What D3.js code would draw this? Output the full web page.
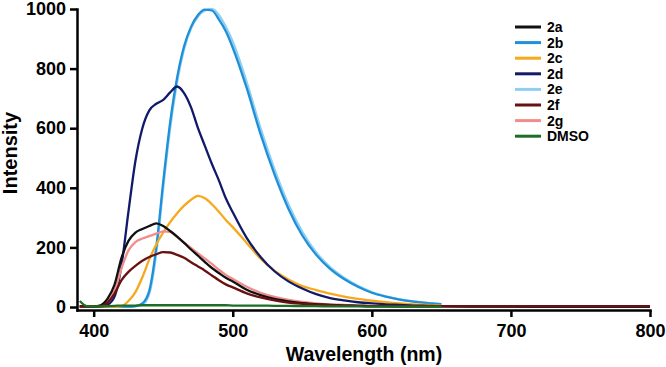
<!DOCTYPE html>
<html>
<head>
<meta charset="utf-8">
<script src="https://cdn.jsdelivr.net/npm/d3@7"></script>
<style>
  body { margin: 0; background: #fff; }
  svg text { font-family: 'Liberation Sans', Arial, sans-serif; font-weight: bold; fill: #000; }
  .axis path, .axis line { stroke: #000; stroke-width: 2.5; }
</style>
</head>
<body>
<svg width="666" height="367"></svg>
<script>
(function(d3) {
  'use strict';

  // Wavelength grid (nm) shared by all spectra.
  const wavelengths = [390, 395, 400, 405, 410, 415, 420, 425, 430, 435, 440,
    445, 450, 455, 460, 465, 470, 475, 480, 485, 490, 495, 500, 510, 520, 530,
    540, 550, 560, 570, 580, 590, 600, 610, 620, 630, 640, 650, 700, 750, 800];

  // Intensities. Shorter series stop at 650 nm.
  const i2a = [3, 2, 2, 6, 28, 75, 165, 222, 250, 262, 272, 281, 272, 255, 236,
    215, 193, 172, 151, 131, 114, 98, 86, 58, 40, 27, 19, 13, 10, 7, 5, 4, 3, 3,
    2, 2, 2, 2, 1, 1, 1];
  const i2b = [1, 1, 1, 1, 1, 1, 1, 1, 3, 12, 55, 200, 420, 620, 770, 875, 940,
    980, 998, 995, 965, 925, 870, 735, 580, 445, 330, 240, 175, 128, 94, 68, 48,
    35, 25, 18, 13, 10];
  const i2c = [1, 1, 1, 1, 1, 1, 3, 20, 50, 100, 160, 210, 250, 285, 315, 340,
    360, 373, 365, 345, 320, 292, 268, 215, 162, 122, 92, 70, 57, 45, 35, 27, 21,
    16, 12, 9, 7, 5];
  const i2d = [1, 1, 1, 2, 8, 35, 140, 320, 490, 600, 660, 682, 695, 720, 740,
    718, 670, 600, 540, 480, 425, 365, 318, 232, 168, 120, 86, 62, 43, 30, 22, 16,
    12, 9, 7, 5, 4, 3, 2, 1, 1];
  const i2e = [1, 1, 1, 1, 1, 1, 1, 1, 2, 8, 45, 180, 400, 600, 755, 865, 935,
    975, 995, 1000, 980, 940, 890, 755, 600, 462, 345, 252, 183, 134, 98, 71, 50,
    36, 26, 19, 14, 10];
  const i2f = [2, 2, 2, 3, 15, 45, 90, 118, 138, 155, 168, 177, 184, 183, 175,
    165, 150, 136, 122, 106, 90, 76, 66, 46, 32, 22, 15, 11, 8, 6, 5, 4, 3, 3, 3,
    3, 3, 3, 3, 3, 3];
  const i2g = [2, 2, 2, 4, 18, 55, 130, 190, 218, 230, 238, 246, 254, 252, 235,
    216, 198, 180, 162, 145, 125, 108, 94, 68, 48, 34, 24, 17, 12, 9, 7, 5, 4, 3,
    3, 2, 2, 2];
  const iDmso = [20, 3, 2, 2, 3, 4, 5, 5, 5, 6, 6, 6, 6, 6, 6, 6, 6, 6, 6, 6, 6,
    6, 5, 5, 5, 4, 4, 3, 3, 2, 2, 2, 1, 1, 1, 1, 1, 1];

  const seriesNames = ['2a', '2b', '2c', '2d', '2e', '2f', '2g', 'DMSO'];
  const seriesColors = ['#111111', '#1e8fd8', '#f7a81b', '#101a68', '#8fd0f2',
    '#6a1010', '#f28c8c', '#1d6e25'];
  const seriesValues = [i2a, i2b, i2c, i2d, i2e, i2f, i2g, iDmso];
  // Drawing order, back to front.
  const drawOrder = ['2e', '2b', '2c', '2d', '2g', '2a', '2f', 'DMSO'];

  const xTicks = [400, 500, 600, 700, 800];
  const yTicks = [0, 200, 400, 600, 800, 1000];

  const svg = d3.select('svg');

  const xScale = d3.scaleLinear().domain([388, 800]).range([77, 650]);
  const yScale = d3.scaleLinear().domain([-10, 1000]).range([310, 9]);

  const series = seriesNames.map(function(name, i) {
    return {
      name: name,
      color: seriesColors[i],
      points: seriesValues[i].map(function(v, j) {
        return {x: wavelengths[j], y: v};
      }),
    };
  });

  const line = d3.line().
      x((d) => xScale(d.x)).
      y((d) => yScale(d.y)).
      curve(d3.curveMonotoneX);

  const marksG = svg.append('g');
  marksG.selectAll('path').
      data(drawOrder.map(function(name) {
        return series[seriesNames.indexOf(name)];
      })).
      enter().append('path').
      attr('fill', 'none').
      attr('stroke', (d) => d.color).
      attr('stroke-width', 2.3).
      attr('stroke-linejoin', 'round').
      attr('d', (d) => line(d.points));

  // Axes
  const xAxis = d3.axisBottom(xScale).tickValues(xTicks).
      tickSize(7).tickPadding(7).tickSizeOuter(0).tickFormat(d3.format('d'));
  const yAxis = d3.axisLeft(yScale).tickValues(yTicks).
      tickSize(7).tickPadding(4).tickSizeOuter(0).tickFormat(d3.format('d'));

  const xAxisG = svg.append('g').attr('class', 'axis').
      attr('transform', 'translate(0,310)').call(xAxis);
  const yAxisG = svg.append('g').attr('class', 'axis').
      attr('transform', 'translate(77,0)').call(yAxis);
  xAxisG.selectAll('text').style('font-size', '18px');
  yAxisG.selectAll('text').style('font-size', '18px');
  xAxisG.select('.domain').attr('stroke-linecap', 'square');
  yAxisG.select('.domain').attr('stroke-linecap', 'square');

  svg.append('text').
      attr('x', 364).attr('y', 361).
      attr('text-anchor', 'middle').
      style('font-size', '19.5px').
      text('Wavelength (nm)');

  svg.append('text').
      attr('transform', 'translate(17,153) rotate(-90)').
      attr('text-anchor', 'middle').
      style('font-size', '20px').
      text('Intensity');

  // Legend
  const legendG = svg.append('g').attr('transform', 'translate(515,27)');
  const rows = legendG.selectAll('g').data(series).enter().append('g').
      attr('transform', (d, i) => `translate(0,${i * 15.6})`);
  rows.append('line').
      attr('x1', 0).attr('x2', 26).
      attr('stroke', (d) => d.color).
      attr('stroke-width', 3);
  rows.append('text').
      attr('x', 32).attr('dy', '0.36em').
      style('font-size', '14px').
      text((d) => d.name);
}(d3));
</script>
</body>
</html>
